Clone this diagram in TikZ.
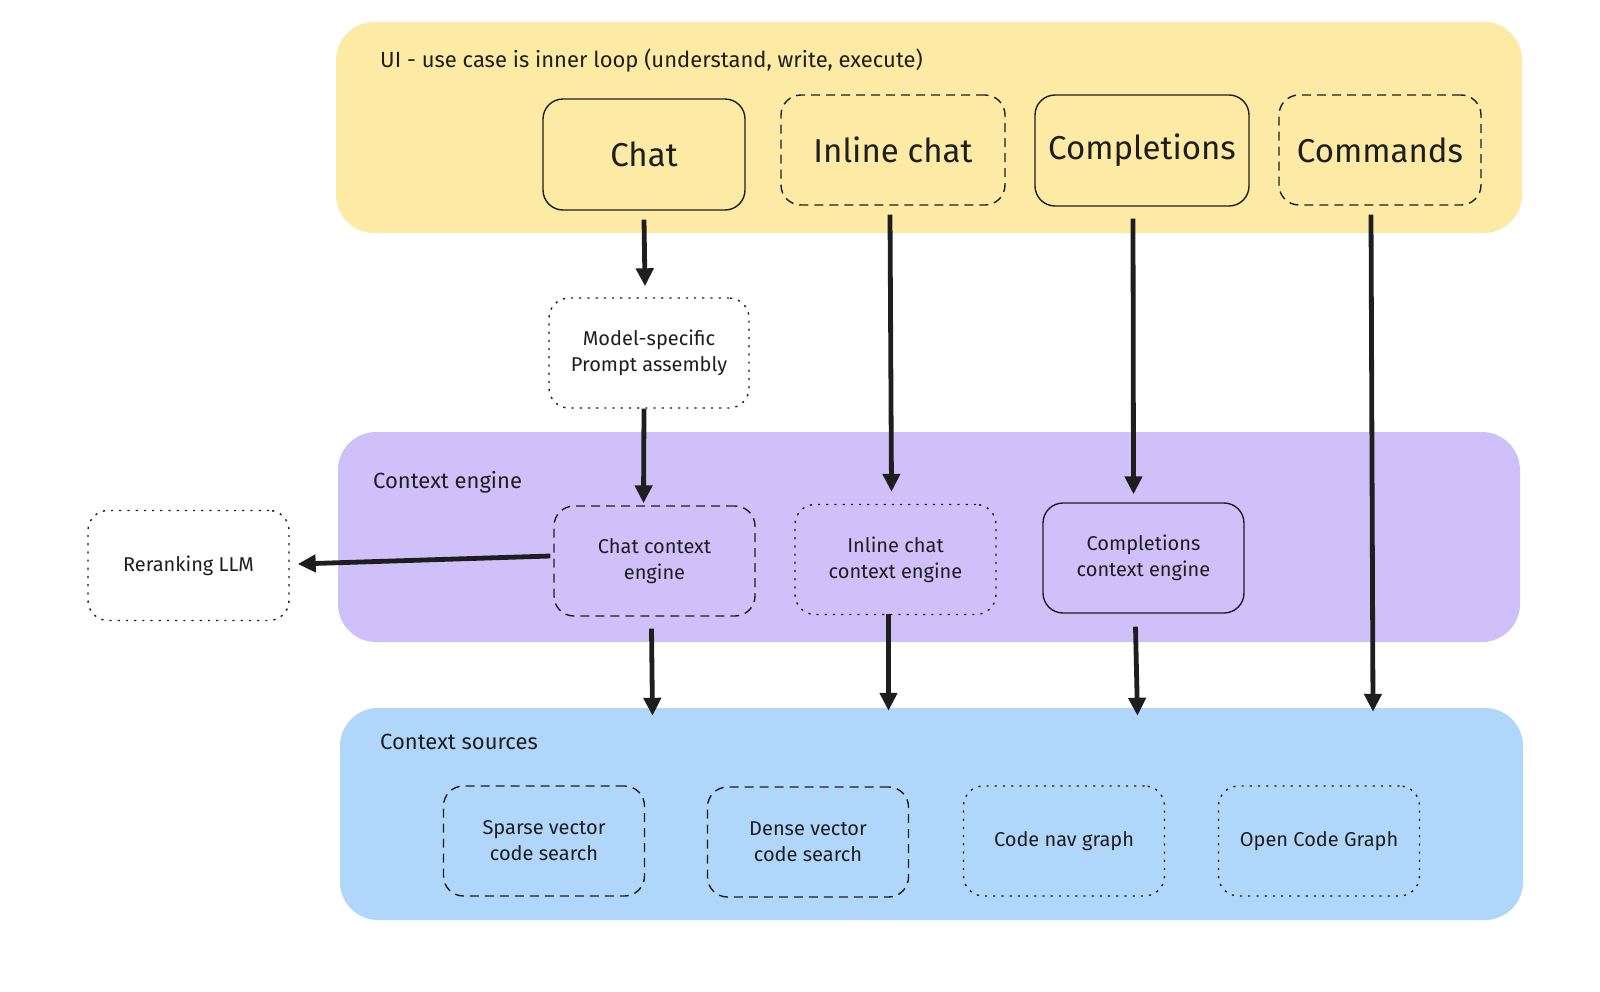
\documentclass[tikz,border=0pt]{standalone}
\usepackage{fontspec}
\setmainfont{Fira Sans}
\usetikzlibrary{arrows.meta}
\definecolor{uiyellow}{RGB}{252,234,165}
\definecolor{ctxpurple}{RGB}{208,192,250}
\definecolor{srcblue}{RGB}{176,215,250}
\definecolor{ink}{RGB}{30,30,30}
\tikzset{
  band/.style={draw=none, rounded corners=38pt, inner sep=0pt},
  boxbase/.style={rounded corners=20pt, line width=1.4pt, draw=ink, text=ink,
    minimum width=201pt, minimum height=110pt, align=center, inner sep=2pt},
  solidbox/.style={boxbase},
  dashbox/.style={boxbase, dash pattern=on 9pt off 6pt},
  dotbox/.style={boxbase, dash pattern=on 2.2pt off 6pt},
  bigtxt/.style={font=\fontsize{33}{38}\selectfont},
  smalltxt/.style={font=\fontsize{20}{26}\selectfont},
  titletxt/.style={anchor=west, text=ink, font=\fontsize{22}{24}\selectfont, inner sep=0pt},
  arr/.style={draw=ink, line width=4.8pt, -{Triangle[length=18pt,width=17pt]}},
}
\begin{document}
\begin{tikzpicture}[x=1pt,y=-1pt]
\useasboundingbox (0,0) rectangle (1600,991);
% bands
\node[band, fill=uiyellow, minimum width=1186pt, minimum height=211pt] (ui) at (929,127.5) {};
\node[band, fill=ctxpurple, minimum width=1182pt, minimum height=210pt] (ctx) at (929,537) {};
\node[band, fill=srcblue, minimum width=1183pt, minimum height=212pt] (src) at (931.5,814) {};
\node[titletxt] (uititle) at (380,61) {UI - use case is inner loop (understand, write, execute)};
\node[titletxt] (ctxtitle) at (373,482) {Context engine};
\node[titletxt] (srctitle) at (380,742) {Context sources};
% top row
\node[solidbox, bigtxt, minimum width=202pt, minimum height=111pt] (chat) at (644,154.5) {Chat};
\node[dashbox, bigtxt, minimum width=224pt] (inline) at (893,150) {Inline chat};
\node[solidbox, bigtxt, minimum width=214pt, minimum height=111pt] (compl) at (1142,150.5) {Completions};
\node[dashbox, bigtxt, minimum width=202pt] (cmds) at (1380,150) {Commands};
% prompt assembly
\node[dotbox, smalltxt, minimum width=200pt] (prompt) at (649,353) {Model-specific\\Prompt assembly};
% context engines
\node[dashbox, smalltxt] (chatctx) at (654.5,561) {Chat context\\engine};
\node[dotbox, smalltxt] (inlinectx) at (895.5,559.5) {Inline chat\\context engine};
\node[solidbox, smalltxt] (complctx) at (1143.5,558) {Completions\\context engine};
\node[dotbox, smalltxt] (rerank) at (188.5,565.5) {Reranking LLM};
% sources
\node[dashbox, smalltxt] (sparse) at (544,841) {Sparse vector\\code search};
\node[dashbox, smalltxt] (dense) at (808,842) {Dense vector\\code search};
\node[dotbox, smalltxt] (codenav) at (1064,841) {Code nav graph};
\node[dotbox, smalltxt] (ocg) at (1319,841) {Open Code Graph};
% arrows
\draw[arr] ([yshift=-9pt]chat.south) -- ([xshift=-4pt,yshift=11pt]prompt.north);
\draw[arr] ([xshift=-5pt]prompt.south) -- ([xshift=-11pt,yshift=2pt]chatctx.north);
\draw[arr] ([xshift=-3pt,yshift=-9pt]inline.south) -- ([xshift=-4pt,yshift=12pt]inlinectx.north);
\draw[arr] ([xshift=-9pt,yshift=-12pt]compl.south) -- ([xshift=-10pt,yshift=8pt]complctx.north);
\draw[arr] ([xshift=-9pt,yshift=-9pt]cmds.south) -- ([xshift=-7pt,yshift=-4pt]cmds.south |- src.north);
\draw[arr] ([xshift=-3pt,yshift=5pt]chatctx.west) -- ([xshift=8pt,yshift=1.5pt]rerank.east);
\draw[arr] ([xshift=-3pt,yshift=-12pt]chatctx.south) -- ([xshift=-2pt,yshift=-8pt]chatctx.south |- src.north);
\draw[arr] ([xshift=-7pt,yshift=1pt]inlinectx.south) -- ([xshift=-7pt,yshift=-3pt]inlinectx.south |- src.north);
\draw[arr] ([xshift=-8pt,yshift=-13pt]complctx.south) -- ([xshift=-6pt,yshift=-8pt]complctx.south |- src.north);
\end{tikzpicture}
\end{document}
